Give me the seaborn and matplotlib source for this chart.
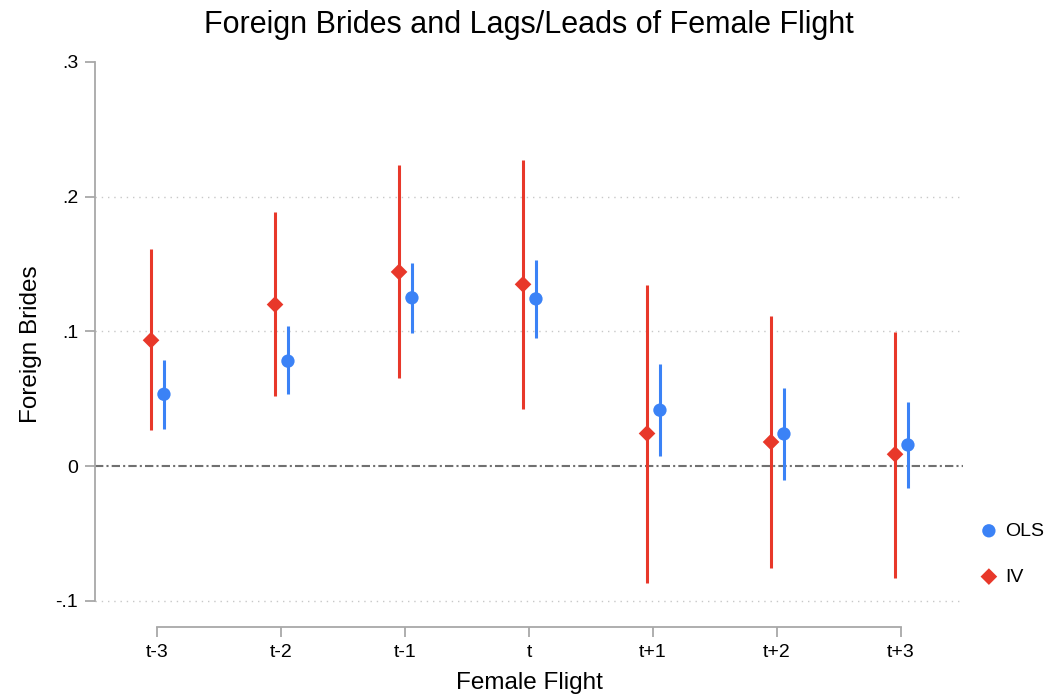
import pandas as pd
import seaborn as sns
import matplotlib.pyplot as plt

periods = ['t-3', 't-2', 't-1', 't', 't+1', 't+2', 't+3']

ols_coef = [0.0534, 0.0780, 0.1250, 0.1242, 0.0416, 0.0240, 0.0158]
ols_lo = [0.0280, 0.0534, 0.0992, 0.0955, 0.0074, -0.0099, -0.0161]
ols_hi = [0.0787, 0.1040, 0.1510, 0.1529, 0.0757, 0.0579, 0.0475]

iv_coef = [0.0935, 0.1200, 0.1442, 0.1350, 0.0243, 0.0180, 0.0089]
iv_lo = [0.0267, 0.0520, 0.0655, 0.0428, -0.0863, -0.0752, -0.0826]
iv_hi = [0.1610, 0.1887, 0.2234, 0.2276, 0.1348, 0.1115, 0.0997]

ols_color = '#3b82f6'
iv_color = '#e8382a'

ols = pd.DataFrame({'period': periods, 'coef': ols_coef, 'lo': ols_lo, 'hi': ols_hi})
ols['x'] = range(len(periods))
ols['x'] = ols['x'] + 0.056
iv = pd.DataFrame({'period': periods, 'coef': iv_coef, 'lo': iv_lo, 'hi': iv_hi})
iv['x'] = range(len(periods))
iv['x'] = iv['x'] - 0.048

sns.set_style('white')
plt.rcParams['font.family'] = ['Liberation Sans', 'DejaVu Sans']
plt.rcParams['text.color'] = 'black'
plt.rcParams['axes.labelcolor'] = 'black'
plt.rcParams['xtick.color'] = 'black'
plt.rcParams['ytick.color'] = 'black'

fig = plt.figure(figsize=(10.57, 6.96), dpi=100)
ax = fig.add_axes([95 / 1057, 1 - 627 / 696, (963 - 95) / 1057, 565 / 696])

# reference lines
for g in [-0.1, 0.1, 0.2]:
    ax.axhline(g, color='#c8c8c8', lw=1, ls=(0, (1, 3.5)), zorder=0)
ax.axhline(0, color='#707070', lw=1.5, ls=(0, (4, 1.5, 1, 1.5)), zorder=1)

# confidence intervals
ax.vlines(iv['x'], iv['lo'], iv['hi'], color=iv_color, lw=2.2, zorder=2)
ax.vlines(ols['x'], ols['lo'], ols['hi'], color=ols_color, lw=2.2, zorder=2)

sns.scatterplot(data=ols, x='x', y='coef', marker='o', s=92, color=ols_color,
                edgecolor='none', label='OLS', zorder=3, ax=ax)
sns.scatterplot(data=iv, x='x', y='coef', marker='D', s=72, color=iv_color,
                edgecolor='none', label='IV', zorder=3, ax=ax)

ax.set_xlim(-0.5, 6.5)
ax.set_ylim(-0.1193, 0.3)
ax.set_xticks(range(len(periods)))
ax.set_xticklabels(periods)
ax.set_yticks([-0.1, 0, 0.1, 0.2, 0.3])
ax.set_yticklabels(['-.1', '0', '.1', '.2', '.3'])

for s in ['top', 'right']:
    ax.spines[s].set_visible(False)
for s in ['left', 'bottom']:
    ax.spines[s].set_color('#a8a8a8')
    ax.spines[s].set_linewidth(1.3)
ax.spines['left'].set_bounds(-0.1, 0.3)
ax.spines['bottom'].set_bounds(0, 6)
ax.tick_params(axis='both', bottom=True, left=True, length=7, width=1.3,
               color='#a8a8a8', labelcolor='black', labelsize=14, pad=5)

ax.set_xlabel('Female Flight', fontsize=17.5, labelpad=8)
ax.set_ylabel('Foreign Brides', fontsize=17.5, labelpad=10)
fig.text(0.5, 1 - 25 / 696, 'Foreign Brides and Lags/Leads of Female Flight',
         fontsize=22, ha='center', va='center')

ax.legend(loc='center left', bbox_to_anchor=(0.919, 1 - 554 / 696),
          bbox_transform=fig.transFigure, frameon=False, fontsize=14,
          handlelength=1, handletextpad=0.35, labelspacing=1.45, borderaxespad=0)

plt.savefig('out.png', dpi=100)
